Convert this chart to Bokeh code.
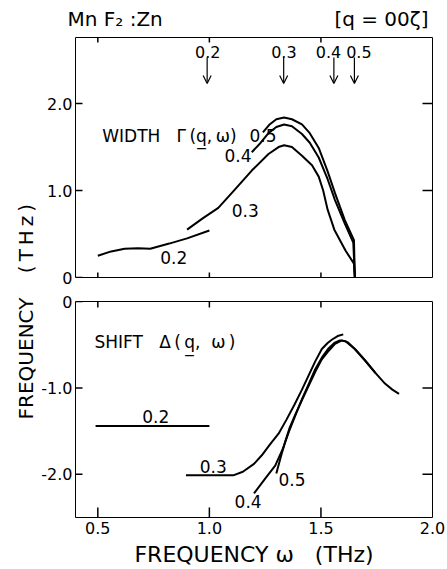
import math
from bokeh.plotting import figure
from bokeh.layouts import column, row
from bokeh.models import (Range1d, Label, Arrow, OpenHead,
                          ColumnDataSource, FixedTicker)
from bokeh.embed import file_html
from bokeh.resources import INLINE

FONT = "DejaVu Sans"
NB = "\u00a0"
TH = "\u2009"

# ---------------- data ----------------
# WIDTH Gamma(q, omega)  (top panel)
width_02_w = [0.5, 0.56, 0.62, 0.68, 0.735, 0.82, 0.9, 1.0]
width_02_v = [0.25, 0.30, 0.33, 0.335, 0.33, 0.39, 0.45, 0.54]

width_03_w = [0.9, 0.97, 1.04, 1.11, 1.19, 1.265, 1.31, 1.335, 1.37, 1.415,
              1.46, 1.49, 1.51, 1.53, 1.56, 1.61, 1.648, 1.652]
width_03_v = [0.55, 0.68, 0.80, 1.0, 1.23, 1.42, 1.50, 1.52, 1.50, 1.40,
              1.29, 1.16, 1.00, 0.78, 0.55, 0.31, 0.16, 0.0]

width_04_w = [1.19, 1.23, 1.265, 1.30, 1.335, 1.37, 1.415, 1.45, 1.49, 1.53,
              1.563, 1.607, 1.645, 1.652]
width_04_v = [1.44, 1.55, 1.66, 1.73, 1.76, 1.74, 1.65, 1.55, 1.38, 1.13,
              0.89, 0.62, 0.40, 0.0]

width_05_w = [1.24, 1.27, 1.30, 1.335, 1.37, 1.415, 1.45, 1.49, 1.53, 1.563,
              1.607, 1.648, 1.652]
width_05_v = [1.67, 1.76, 1.82, 1.84, 1.82, 1.76, 1.66, 1.49, 1.22, 0.97,
              0.66, 0.43, 0.0]

# SHIFT Delta(q, omega)  (bottom panel)
shift_02_w = [0.49, 1.0]
shift_02_v = [-1.44, -1.44]

shift_03_w = [0.895, 1.0, 1.11, 1.15, 1.2, 1.235, 1.27, 1.31, 1.345, 1.38,
              1.415, 1.446, 1.475, 1.504, 1.53, 1.55, 1.575, 1.6]
shift_03_v = [-2.01, -2.01, -2.01, -1.97, -1.88, -1.78, -1.66, -1.53, -1.37, -1.20,
              -1.02, -0.85, -0.69, -0.55, -0.48, -0.44, -0.40, -0.38]

shift_04_w = [1.2, 1.25, 1.295, 1.33, 1.356, 1.385, 1.415, 1.446, 1.475, 1.504,
              1.535, 1.56, 1.585, 1.61, 1.652, 1.697, 1.745]
shift_04_v = [-2.22, -2.05, -1.90, -1.70, -1.51, -1.32, -1.13, -0.95, -0.78, -0.65,
              -0.54, -0.48, -0.45, -0.46, -0.55, -0.68, -0.83]

shift_05_w = [1.30, 1.32, 1.34, 1.36, 1.385, 1.415, 1.446, 1.475, 1.504, 1.535,
              1.563, 1.594, 1.62, 1.652, 1.697, 1.742, 1.787, 1.82, 1.85]
shift_05_v = [-1.99, -1.80, -1.62, -1.46, -1.31, -1.14, -0.97, -0.81, -0.67, -0.57,
              -0.49, -0.45, -0.47, -0.55, -0.68, -0.82, -0.95, -1.02, -1.07]

# arrows marking the q values
arrow_q = ["0.2", "0.3", "0.4", "0.5"]
arrow_w = [0.99, 1.333, 1.558, 1.65]

x_ticks = [0.5, 1.0, 1.5, 2.0]
x_tick_labels = ["0.5", "1.0", "1.5", "2.0"]
x_edge_ticks = [0.5, 1.0, 1.5]
top_ticks = [0, 1, 2]
top_tick_labels = ["0", "1.0", "2.0"]
top_right_ticks = [1, 2]
bot_ticks = [0, -1, -2]
bot_tick_labels = ["0", "-1.0", "-2.0"]
bot_right_ticks = [-1, -2]

# ---------------- helpers ----------------
def style_axis(ax, ticks, labels):
    ax.ticker = FixedTicker(ticks=ticks)
    ax.axis_line_color = None
    ax.major_tick_in = 0
    ax.major_tick_out = 0
    ax.minor_tick_in = 0
    ax.minor_tick_out = 0
    ax.major_tick_line_color = None
    ax.minor_tick_line_color = None
    ax.major_label_overrides = {t: l for t, l in zip(ticks, labels)}
    ax.major_label_text_font = FONT
    ax.major_label_text_font_size = "16px"
    ax.major_label_text_color = "black"


def frame_ticks(p, xs, ys, angle, length):
    # short inward tick marks along a frame edge
    p.ray(x=xs, y=ys, length=length, length_units="screen", angle=angle,
          line_color="black", line_width=1.5)


x_range = Range1d(0.4, 2.0)
MAIN_W = 409


def base_fig(height, yr, top_b, bot_b):
    p = figure(width=MAIN_W, height=height, x_range=x_range, y_range=yr,
               output_backend="svg", toolbar_location=None,
               min_border_left=35, min_border_right=15,
               min_border_top=top_b, min_border_bottom=bot_b)
    p.xgrid.visible = False
    p.ygrid.visible = False
    p.outline_line_color = "black"
    p.outline_line_width = 1
    p.background_fill_color = "white"
    p.border_fill_color = "white"
    return p


def plain_fig(w, h):
    p = figure(width=w, height=h, x_range=Range1d(0, w), y_range=Range1d(h, 0),
               output_backend="svg", toolbar_location=None,
               x_axis_location=None, y_axis_location=None,
               min_border=0, min_border_left=0, min_border_right=0,
               min_border_top=0, min_border_bottom=0)
    p.xgrid.visible = False
    p.ygrid.visible = False
    p.outline_line_color = None
    p.background_fill_color = "white"
    p.border_fill_color = "white"
    return p


def lbl(p, x, y, text, size="17px", align="left", baseline="middle", **kw):
    p.add_layout(Label(x=x, y=y, text=text, text_font=FONT, text_font_size=size,
                       text_align=align, text_baseline=baseline,
                       text_color="black", **kw))


# ---------------- title strip (full width) ----------------
head = plain_fig(447, 30)
lbl(head, 67, 18, "Mn" + NB + "F₂" + NB + ":Zn", size="20px")
lbl(head, 428, 18, "[q" + NB + "=" + NB + "00ζ]", size="20px", align="right")

# ---------------- side label (y axis title spanning both panels) -------
side = plain_fig(38, 539)
lbl(side, 25, 208, "(" + TH + "T" + TH + "H" + TH + "z" + TH + ")", size="20px",
    align="center", angle=math.pi / 2)
lbl(side, 25, 328, "FREQUENCY", size="20px", align="center", angle=math.pi / 2)

# ---------------- top panel ----------------
top_yr = Range1d(0, 2.76)
top = base_fig(260, top_yr, 7, 13)
style_axis(top.yaxis[0], top_ticks, top_tick_labels)
top.yaxis[0].major_label_standoff = 3
top.xaxis.visible = False

frame_ticks(top, [x_range.start] * len(top_ticks), top_ticks, 0, 7)
frame_ticks(top, [x_range.end] * len(top_right_ticks), top_right_ticks, math.pi, 10)
frame_ticks(top, x_edge_ticks, [top_yr.start] * len(x_edge_ticks), math.pi / 2, 5)
frame_ticks(top, x_edge_ticks, [top_yr.end] * len(x_edge_ticks), -math.pi / 2, 5)

for w, v in [(width_02_w, width_02_v), (width_03_w, width_03_v),
             (width_04_w, width_04_v), (width_05_w, width_05_v)]:
    top.line(w, v, line_color="black", line_width=2)

arr_src = ColumnDataSource(dict(x=arrow_w, q=arrow_q))
top.add_layout(Arrow(source=arr_src, x_start="x", x_end="x", y_start=2.53, y_end=2.23,
                     line_color="black", line_width=1.2,
                     end=OpenHead(size=8, line_color="black", line_width=1.2)))
arrow_label_w = [0.993, 1.334, 1.534, 1.670]
for q, w in zip(arrow_q, arrow_label_w):
    lbl(top, w, 2.52, q, size="16px", align="center", baseline="bottom")

lbl(top, 0.52, 1.63, "WIDTH" + NB + NB + NB + "Γ" + TH + "(q̲," + TH + "ω)", size="17px")
lbl(top, 1.18, 1.63, "0.5")
lbl(top, 1.068, 1.40, "0.4")
lbl(top, 1.10, 0.77, "0.3")
lbl(top, 0.78, 0.23, "0.2")

# ---------------- bottom panel ----------------
bot_yr = Range1d(-2.5, 0)
bot = base_fig(279, bot_yr, 11, 51)
style_axis(bot.yaxis[0], bot_ticks, bot_tick_labels)
bot.yaxis[0].major_label_standoff = 3
style_axis(bot.xaxis[0], x_ticks, x_tick_labels)
bot.xaxis[0].major_label_standoff = 4
bot.xaxis[0].axis_label = "FREQUENCY" + NB + "ω" + NB + NB + NB + "(THz)"
bot.xaxis[0].axis_label_text_font = FONT
bot.xaxis[0].axis_label_text_font_size = "22px"
bot.xaxis[0].axis_label_text_font_style = "normal"
bot.xaxis[0].axis_label_text_color = "black"
bot.xaxis[0].axis_label_standoff = 5

frame_ticks(bot, [x_range.start] * len(bot_ticks), bot_ticks, 0, 7)
frame_ticks(bot, [x_range.end] * len(bot_right_ticks), bot_right_ticks, math.pi, 10)
frame_ticks(bot, x_edge_ticks, [bot_yr.start] * len(x_edge_ticks), math.pi / 2, 10)
frame_ticks(bot, x_edge_ticks, [bot_yr.end] * len(x_edge_ticks), -math.pi / 2, 6)

for w, v in [(shift_02_w, shift_02_v), (shift_03_w, shift_03_v),
             (shift_04_w, shift_04_v), (shift_05_w, shift_05_v)]:
    bot.line(w, v, line_color="black", line_width=2)

lbl(bot, 0.485, -0.47, "SHIFT" + NB + NB + NB + "Δ" + TH + "(" + TH + "q̲," + NB + NB + "ω" + TH + ")")
lbl(bot, 0.76, -1.33, "0.2", align="center")
lbl(bot, 0.957, -1.91, "0.3")
lbl(bot, 1.113, -2.31, "0.4")
lbl(bot, 1.31, -2.06, "0.5")

layout = column(head, row(side, column(top, bot, spacing=0), spacing=0), spacing=0)
open("out.html", "w").write(file_html(layout, INLINE))
